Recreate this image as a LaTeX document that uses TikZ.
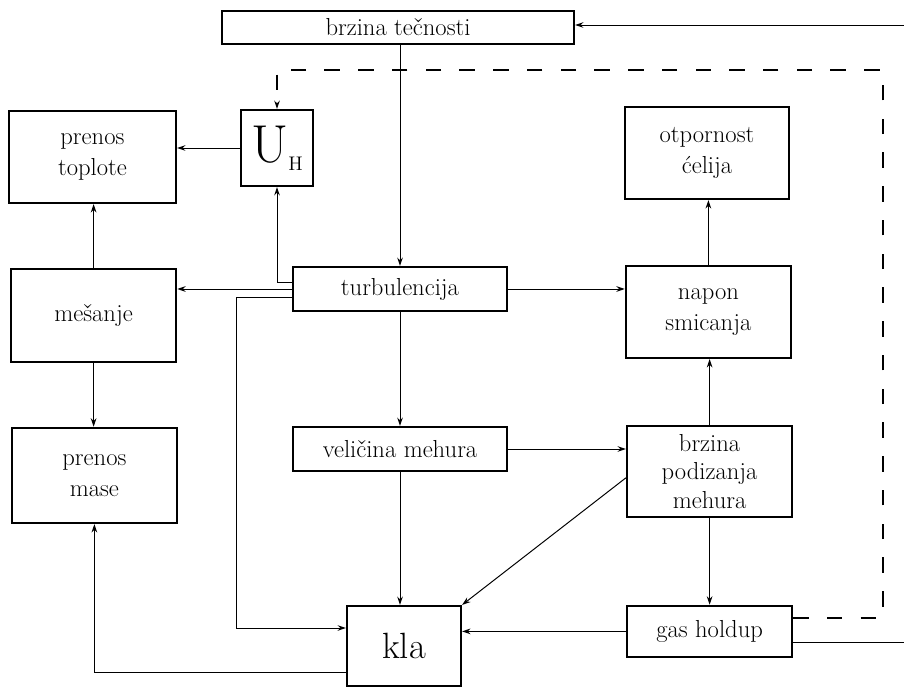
\documentclass[tikz,border=0pt]{standalone}
\usepackage{fontspec}
\usepackage{tikz}
\usetikzlibrary{arrows.meta}

\tikzset{
  blok/.style={draw, line width=1.5pt, inner sep=0pt, align=center,
    font=\fontsize{17.5}{22}\selectfont},
  veza/.style={line width=0.7pt, -{Stealth[length=6pt,width=4pt]}},
  crtkano/.style={line width=0.8pt, dash pattern=on 11pt off 13pt}
}

\begin{document}
\begin{tikzpicture}
\useasboundingbox (0,0) rectangle (22.6,17.225);
\node[blok, minimum width=8.8cm, minimum height=0.83cm] (brzinaT) at (9.95,16.54) {brzina tečnosti};
\node[blok, minimum width=1.8cm, minimum height=1.9cm] (UH) at (6.925,13.525) {{\fontsize{38}{38}\selectfont U}\raisebox{-6pt}{\fontsize{14}{14}\selectfont H}};
\node[blok, minimum width=4.18cm, minimum height=2.3cm] (toplota) at (2.31,13.3) {prenos\\toplote};
\node[blok, minimum width=4.13cm, minimum height=2.33cm] (mesanje) at (2.34,9.34) {mešanje};
\node[blok, minimum width=4.13cm, minimum height=2.38cm] (masa) at (2.36,5.34) {prenos\\mase};
\node[blok, minimum width=5.35cm, minimum height=1.1cm] (turb) at (10,10) {turbulencija};
\node[blok, minimum width=4.1cm, minimum height=2.3cm] (otpor) at (17.675,13.4) {otpornost\\ćelija};
\node[blok, minimum width=4.13cm, minimum height=2.3cm] (napon) at (17.71,9.425) {napon\\smicanja};
\node[blok, minimum width=5.35cm, minimum height=1.1cm] (velicina) at (10,6) {veličina mehura};
\node[blok, minimum width=4.13cm, minimum height=2.28cm, font=\fontsize{17.5}{20.5}\selectfont] (podizanje) at (17.74,5.44) {brzina\\podizanja\\mehura};
\node[blok, minimum width=4.13cm, minimum height=1.28cm] (holdup) at (17.74,1.44) {gas holdup};
\node[blok, minimum width=2.85cm, minimum height=2cm, font=\fontsize{26}{30}\selectfont] (kla) at (10.1,1.075) {kla};
% free ends at the right edge
\coordinate (ulaz) at (22.6,16.6);
\coordinate (izlaz) at (22.6,1.175);
\coordinate (ugao) at (22.075,15.475);
\coordinate (levo) at (5.9,1.525);
\draw[veza] (ulaz) -- (brzinaT.east |- ulaz);
\draw (holdup.east |- izlaz) -- (izlaz);
\draw[crtkano, -{Stealth[length=6pt,width=4pt]}] ([yshift=0.335cm]holdup.east) -| (ugao) -| (UH.north);
% turbulencija
\draw[veza] (turb.north |- brzinaT.south) -- (turb.north);
\draw[veza] (turb.west) -- (turb.west -| mesanje.east);
\draw[veza] ([yshift=0.175cm]turb.west) -| (UH.south);
\draw[veza] ([yshift=-0.2cm]turb.west) -| (levo) -- (kla.west |- levo);
\draw[veza] (turb.east) -- (turb.east -| napon.west);
\draw[veza] (turb.south) -- (velicina.north);
% levo
\draw[veza] (UH.west) -- (UH.west -| toplota.east);
\draw[veza] (mesanje.north) -- (mesanje.north |- toplota.south);
\draw[veza] (mesanje.south) -- (mesanje.south |- masa.north);
\draw[veza] ([yshift=-0.65cm]kla.west) -| (masa.south);
% desno
\draw[veza] (napon.north) -- (napon.north |- otpor.south);
\draw[veza] (podizanje.north) -- (podizanje.north |- napon.south);
\draw[veza] (velicina.east) -- (velicina.east -| podizanje.west);
\draw[veza] (velicina.south) -- (velicina.south |- kla.north);
\draw[veza] ([yshift=-0.16cm]podizanje.west) -- (kla.north east);
\draw[veza] (podizanje.south) -- (holdup.north);
\draw[veza] (holdup.west) -- (holdup.west -| kla.east);
\end{tikzpicture}
\end{document}
